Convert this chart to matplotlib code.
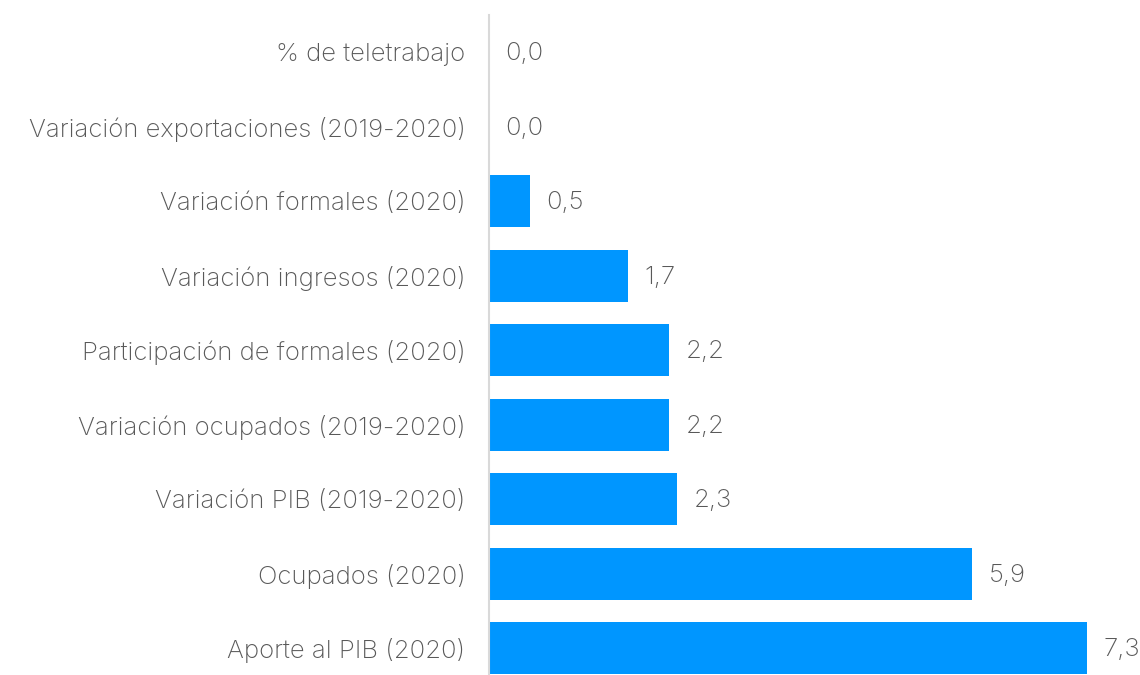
import matplotlib
matplotlib.use("Agg")
import matplotlib.pyplot as plt

categories = ["Aporte al PIB (2020)", "Ocupados (2020)", "Variación PIB (2019-2020)",
              "Variación ocupados (2019-2020)", "Participación de formales (2020)",
              "Variación ingresos (2020)", "Variación formales (2020)",
              "Variación exportaciones (2019-2020)", "% de teletrabajo"]
values = [7.3, 5.9, 2.3, 2.2, 2.2, 1.7, 0.5, 0.0, 0.0]
value_labels = ["7,3", "5,9", "2,3", "2,2", "2,2", "1,7", "0,5", "0,0", "0,0"]

plt.rcParams['font.family'] = ['Inter', 'DejaVu Sans']
text_color = "#595959"
bar_color = "#0096FF"
fs = 18.5

fig = plt.figure(figsize=(11.4, 6.75), dpi=100)
ax = fig.add_axes([489/1140, 0.0, 1 - 489/1140, (675 - 15) / 675])

y = list(range(len(categories)))
ax.barh(y, values, height=0.7, color=bar_color, edgecolor="none", linewidth=0)

for yi, v, lab in zip(y, values, value_labels):
    ax.annotate(lab, xy=(v, yi), xytext=(12, -1), textcoords="offset points",
                va="center", ha="left", fontsize=fs, color=text_color,
                fontweight="light")

ax.set_yticks(y)
ax.set_yticklabels(categories, fontsize=fs, color=text_color, fontweight="light")
ax.tick_params(axis="y", length=0, pad=17)
ax.set_xticks([])
ax.set_xlim(0, 7.95)
ax.set_ylim(-0.36, 8.5)
for s in ["top", "right", "bottom"]:
    ax.spines[s].set_visible(False)
ax.spines["left"].set_color("#d9d9d9")
ax.spines["left"].set_linewidth(1.5)

fig.savefig("out.png", dpi=100)
